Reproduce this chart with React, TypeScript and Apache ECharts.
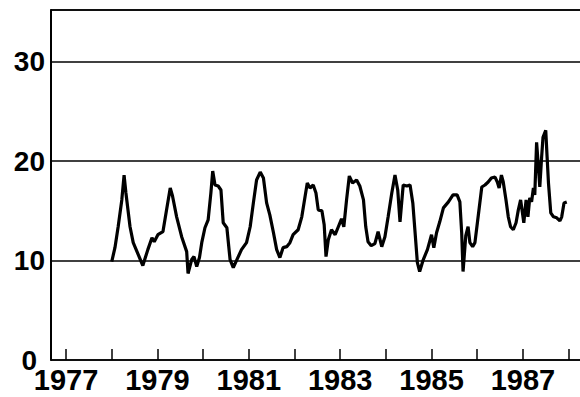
import React, { useEffect, useRef } from "react";
import * as echarts from "echarts";

// Decimal year of each observation
const years = [
  1978.0, 1978.07, 1978.14, 1978.22, 1978.27, 1978.31, 1978.4, 1978.47, 1978.58, 1978.68,
  1978.79, 1978.88, 1978.93, 1979.01, 1979.12, 1979.2, 1979.28, 1979.33, 1979.42, 1979.53,
  1979.64, 1979.67, 1979.75, 1979.8, 1979.86, 1979.92, 1979.97, 1980.04, 1980.11, 1980.17,
  1980.21, 1980.26, 1980.33, 1980.39, 1980.44, 1980.52, 1980.59, 1980.66, 1980.74, 1980.84,
  1980.95, 1981.03, 1981.1, 1981.17, 1981.25, 1981.32, 1981.39, 1981.46, 1981.54, 1981.61,
  1981.68, 1981.75, 1981.83, 1981.9, 1981.97, 1982.08, 1982.16, 1982.23, 1982.28, 1982.34,
  1982.41, 1982.47, 1982.52, 1982.6, 1982.65, 1982.69, 1982.74, 1982.81, 1982.89, 1982.96,
  1983.03, 1983.08, 1983.14, 1983.2, 1983.27, 1983.36, 1983.43, 1983.51, 1983.56, 1983.61,
  1983.68, 1983.76, 1983.83, 1983.91, 1983.98, 1984.05, 1984.13, 1984.2, 1984.26, 1984.31,
  1984.38, 1984.46, 1984.53, 1984.59, 1984.64, 1984.69, 1984.74, 1984.82, 1984.91, 1985.0,
  1985.05, 1985.11, 1985.18, 1985.26, 1985.37, 1985.47, 1985.56, 1985.62, 1985.66, 1985.69,
  1985.75, 1985.8, 1985.84, 1985.9, 1985.95, 1986.02, 1986.1, 1986.17, 1986.24, 1986.31,
  1986.39, 1986.44, 1986.48, 1986.53, 1986.57, 1986.63, 1986.68, 1986.73, 1986.79, 1986.85,
  1986.9, 1986.95, 1986.99, 1987.02, 1987.07, 1987.11, 1987.15, 1987.19, 1987.23, 1987.26,
  1987.3, 1987.34, 1987.37, 1987.41, 1987.44, 1987.5, 1987.53, 1987.56, 1987.61, 1987.67,
  1987.74, 1987.81, 1987.85, 1987.9, 1987.96,
];

// Percent values
const values = [
  9.9, 11.3, 13.4, 16.1, 18.6, 16.8, 13.4, 11.8, 10.6, 9.5,
  11.1, 12.3, 11.9, 12.6, 12.9, 15.1, 17.3, 16.5, 14.4, 12.4,
  10.9, 8.7, 10.1, 10.4, 9.4, 10.3, 11.8, 13.3, 14.1, 16.8,
  19.0, 17.6, 17.5, 17.1, 13.8, 13.3, 10.1, 9.3, 10.1, 11.1,
  11.8, 13.4, 15.8, 18.1, 18.9, 18.3, 15.8, 14.6, 12.8, 11.1,
  10.3, 11.3, 11.4, 11.8, 12.6, 13.1, 14.4, 16.4, 17.8, 17.3,
  17.6, 16.8, 15.1, 15.0, 13.6, 10.4, 12.1, 13.1, 12.6, 13.4,
  14.2, 13.4, 16.1, 18.5, 17.8, 18.1, 17.5, 16.1, 13.4, 11.9,
  11.5, 11.7, 12.9, 11.4, 12.4, 14.4, 16.8, 18.6, 17.1, 13.9,
  17.6, 17.5, 17.6, 15.8, 12.8, 9.8, 8.9, 10.1, 11.1, 12.6,
  11.3, 12.8, 13.9, 15.3, 15.9, 16.6, 16.6, 15.9, 12.8, 8.9,
  12.5, 13.4, 11.8, 11.4, 11.8, 14.4, 17.4, 17.6, 17.9, 18.3,
  18.4, 17.9, 17.3, 18.6, 17.9, 16.1, 14.4, 13.4, 13.1, 13.8,
  15.1, 16.1, 14.8, 13.8, 16.1, 14.4, 16.3, 15.9, 17.3, 16.6,
  21.9, 19.4, 17.4, 20.4, 22.4, 23.1, 20.4, 17.8, 14.8, 14.4,
  14.3, 14.0, 14.4, 15.8, 15.9,
];

const tickYears = [1977, 1978, 1979, 1980, 1981, 1982, 1983, 1984, 1985, 1986, 1987, 1988];
const labelYears = [1977, 1979, 1981, 1983, 1985, 1987];

const X_MIN = 1976.67;
const X_MAX = 1988.25;
const Y_MAX = 35.2;

export default function App() {
  const ref = useRef<HTMLDivElement>(null);

  useEffect(() => {
    if (!ref.current) return;
    const chart = echarts.init(ref.current, null, { renderer: "svg" });
    const font = "'Liberation Sans', Arial, sans-serif";
    chart.setOption({
      animation: false,
      backgroundColor: "#fff",
      grid: { left: 51, right: 0, top: 10, bottom: 37 },
      xAxis: [
        {
          type: "value",
          min: X_MIN,
          max: X_MAX,
          axisLine: { show: true, onZero: false, lineStyle: { color: "#000", width: 1.5 } },
          axisTick: {
            show: true,
            inside: true,
            length: 11,
            customValues: tickYears,
            lineStyle: { color: "#000", width: 1.5 },
          },
          axisLabel: {
            customValues: labelYears,
            formatter: (v: number) => String(Math.round(v)),
            color: "#000",
            fontSize: 29,
            fontWeight: "bold",
            fontFamily: font,
            margin: 5,
          },
          splitLine: { show: false },
        },
        {
          type: "value",
          position: "top",
          min: X_MIN,
          max: X_MAX,
          axisLine: { show: true, onZero: false, lineStyle: { color: "#000", width: 1.5 } },
          axisTick: { show: false },
          axisLabel: { show: false },
          splitLine: { show: false },
        },
      ],
      yAxis: {
        type: "value",
        min: 0,
        max: Y_MAX,
        interval: 10,
        axisLine: { show: true, lineStyle: { color: "#000", width: 2 } },
        axisTick: { show: false },
        axisLabel: {
          formatter: (v: number) => {
            if (v === 0) return "{z|0}";
            return v % 10 === 0 ? String(v) : "";
          },
          color: "#000",
          fontSize: 28,
          fontWeight: "bold",
          fontFamily: font,
          margin: 6,
          rich: {
            z: {
              color: "#000",
              fontSize: 28,
              fontWeight: "bold",
              fontFamily: font,
              padding: [0, 8, 0, 0],
            },
          },
        },
        splitLine: { show: true, lineStyle: { color: "#000", width: 1.5 } },
      },
      series: [
        {
          type: "line",
          xAxisIndex: 0,
          data: years.map((y, i) => [y, values[i]]),
          showSymbol: false,
          symbol: "none",
          lineStyle: { color: "#000", width: 3.2 },
          silent: true,
        },
      ],
    });
    return () => chart.dispose();
  }, []);

  return (
    <div
      ref={ref}
      style={{ position: "fixed", left: 0, top: 0, width: 580, height: 397, background: "#fff" }}
    />
  );
}
